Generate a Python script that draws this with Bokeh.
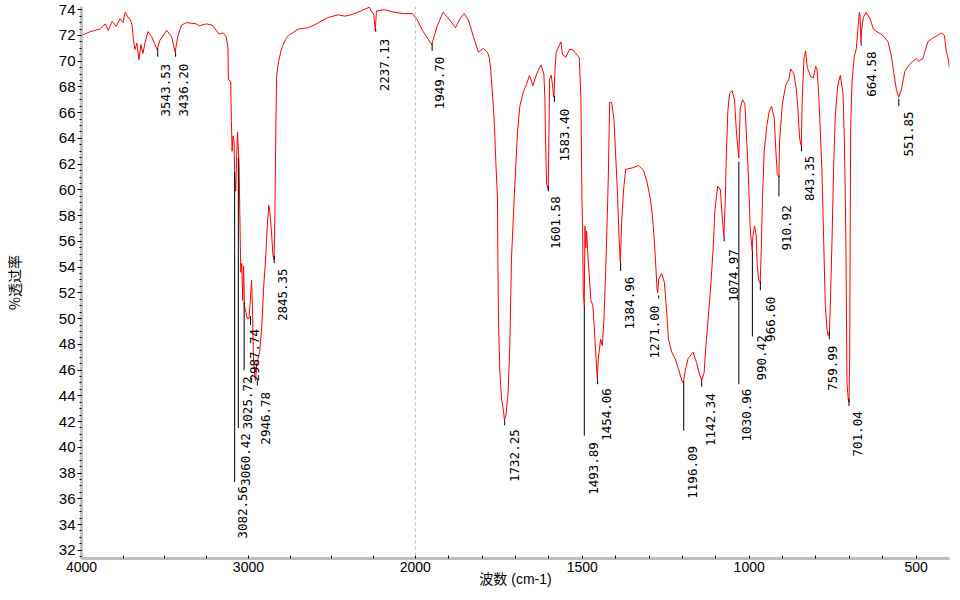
import math
from bokeh.plotting import figure
from bokeh.models import (Range1d, FixedTicker, SingleIntervalTicker, Span,
                          ColumnDataSource, CustomJSTransform)
from bokeh.transform import transform
from bokeh.core.properties import value
from bokeh.embed import file_html
from bokeh.resources import INLINE

# ---------------- data ----------------
# spectrum: wavenumber (cm-1) and % transmittance
spec_w = [4000, 3947, 3887, 3858, 3840, 3816, 3792, 3769, 3751, 3739, 3721, 3709, 3697, 3690,
          3680, 3668, 3656, 3644, 3632, 3620, 3602, 3579, 3561, 3546, 3531, 3490, 3460, 3439,
          3424, 3401, 3371, 3312, 3294, 3252, 3217, 3175, 3151, 3133, 3123, 3120, 3106, 3102,
          3098, 3092, 3086, 3082, 3076, 3071, 3065, 3056, 3050, 3046, 3040, 3034, 3029, 3024,
          3015, 3006, 2997, 2991, 2981, 2976, 2970, 2961, 2957, 2950, 2944, 2932, 2920, 2908,
          2898, 2888, 2878, 2872, 2862, 2853, 2847, 2843, 2839, 2835, 2831, 2819, 2801, 2777,
          2760, 2700, 2641, 2593, 2522, 2463, 2421, 2386, 2326, 2275, 2261, 2250, 2240, 2233,
          2184, 2125, 2065, 2018,
          1994, 1979, 1964, 1951, 1944, 1935, 1917, 1900, 1880, 1866, 1854, 1841, 1826, 1811,
          1796, 1784, 1778, 1774, 1768, 1763, 1759, 1754, 1753, 1751, 1747, 1742, 1736, 1733,
          1728, 1724, 1722, 1717, 1712, 1707, 1704, 1700, 1694, 1687, 1677, 1667, 1658, 1648,
          1638, 1630, 1623, 1615, 1612, 1610, 1607, 1602, 1599, 1598, 1593, 1590, 1585, 1581,
          1578, 1573, 1564, 1559, 1549, 1539, 1529, 1519, 1509, 1504, 1501, 1499, 1497, 1494,
          1492, 1489, 1487, 1482, 1477, 1474, 1468, 1462, 1455, 1452, 1445, 1440, 1435, 1430,
          1425, 1422, 1418, 1412, 1405, 1400, 1395, 1390, 1386, 1382, 1376, 1370, 1351, 1331,
          1316, 1306, 1296, 1290, 1284, 1281, 1276, 1274, 1271, 1262, 1254, 1247, 1242, 1232,
          1222, 1212, 1202, 1197, 1192, 1183, 1168, 1158, 1148, 1142, 1135, 1131, 1123, 1115,
          1108, 1103, 1098, 1094, 1086, 1082, 1076, 1072, 1069, 1064, 1059, 1051, 1044, 1039,
          1035, 1031, 1029, 1027, 1020, 1013, 1008, 1002, 997, 991, 989, 984, 979, 976, 971,
          967, 964, 960, 955, 947, 940, 933, 925, 920, 916, 911, 909, 901, 891, 881, 876, 866,
          859, 854, 849, 844, 841, 836, 831, 826, 816, 808, 801, 797, 792, 787, 782, 777, 772,
          767, 764, 760, 757, 752, 747, 742, 735, 727, 719, 715, 712, 710, 707, 703, 701, 699,
          697, 696, 692, 685, 679, 675, 670, 668, 665, 663, 658, 650, 638, 628, 618, 599, 584,
          574, 567, 559, 552, 544, 534, 524, 510, 500, 492, 480, 465, 450, 435, 425, 415, 410,
          405, 400]
spec_t = [72.0, 72.3, 72.5, 72.9, 72.4, 73.1, 72.7, 73.3, 73.0, 73.8, 73.4, 73.3, 72.8, 71.8,
          70.9, 71.4, 70.1, 71.3, 70.6, 71.4, 72.3, 71.9, 71.3, 70.9, 71.6, 72.4, 71.9, 70.7,
          71.9, 72.8, 73.0, 72.9, 72.75, 72.9, 72.8, 72.1, 72.2, 71.9, 71.1, 68.6, 68.4, 65.4,
          63.0, 64.2, 63.7, 61.0, 59.9, 62.5, 64.5, 62.0, 57.0, 53.6, 54.3, 51.4, 54.1, 51.0,
          50.5, 50.0, 50.0, 51.0, 53.0, 51.0, 47.0, 45.5, 45.2, 46.5, 46.8, 47.5, 49.4, 52.6,
          54.4, 57.0, 58.8, 58.3, 56.8, 54.9, 54.6, 56.5, 61.0, 65.5, 68.9, 70.0, 71.0, 71.7,
          72.0, 72.5, 72.6, 72.9, 73.4, 73.6, 73.5, 73.6, 73.9, 74.2, 73.8, 73.7, 72.4, 73.9,
          74.0, 73.8, 73.7, 73.7,
          73.2, 72.4, 71.8, 71.3, 71.9, 72.7, 73.8, 73.3, 72.6, 73.3, 73.7, 73.2, 71.9, 70.7,
          71.0, 70.7, 70.2, 69.3, 67.1, 65.0, 62.2, 59.3, 55.3, 49.8, 46.0, 43.8, 42.8, 42.1,
          42.6, 43.8, 44.3, 47.9, 54.7, 57.5, 59.3, 61.4, 64.5, 66.5, 67.6, 68.2, 68.9, 68.1,
          68.9, 69.4, 69.7, 69.0, 67.1, 64.0, 60.5, 60.0, 66.0, 68.6, 68.9, 68.3, 67.2, 69.7,
          70.7, 71.0, 71.5, 70.5, 70.3, 70.9, 70.9, 70.6, 70.3, 67.1, 59.3, 57.0, 52.0, 51.0,
          57.2, 55.5, 56.8, 54.4, 52.6, 51.4, 51.0, 48.4, 45.3, 46.9, 48.4, 47.9, 50.0, 53.6,
          58.0, 61.0, 66.8, 66.8, 65.5, 62.7, 60.1, 56.4, 54.4, 57.5, 60.1, 61.6, 61.7, 61.9,
          61.5, 60.6, 59.3, 58.0, 56.0, 54.7, 52.3, 52.0, 53.1, 53.5, 52.8, 50.5, 48.4, 47.4,
          46.9, 46.1, 45.2, 45.0, 45.9, 46.9, 47.4, 46.6, 45.6, 45.2, 45.8, 47.4, 50.0, 52.6,
          55.4, 58.3, 59.5, 60.3, 60.0, 58.3, 56.4, 58.8, 62.2, 66.1, 67.5, 67.7, 67.0, 64.8,
          63.5, 62.5, 64.5, 66.3, 67.0, 66.7, 64.2, 60.9, 57.0, 55.3, 56.4, 57.2, 56.5, 54.1, 52.9,
          52.8, 55.2, 59.5, 63.0, 65.0, 66.1, 66.5, 65.6, 63.0, 61.3, 61.0, 63.8, 66.6, 68.1, 68.6,
          69.4, 69.0, 67.9, 66.3, 64.0, 63.4, 67.1, 70.2, 70.8, 69.5, 68.8, 68.7, 69.6, 69.4,
          67.6, 64.5, 61.4, 56.2, 51.0, 49.2, 48.7, 48.8, 51.0, 56.0, 61.9, 65.8, 68.1, 68.9,
          67.5, 64.0, 59.3, 55.0, 45.0, 43.6, 43.5, 47.0, 59.3, 65.0, 68.4, 70.4, 71.0, 72.3,
          73.8, 73.6, 71.5, 72.5, 73.4, 73.8, 73.3, 72.5, 72.3, 72.0, 71.5, 70.4, 69.1, 67.8,
          67.2, 67.8, 69.2, 69.6, 70.0, 70.2, 70.0, 70.2, 71.5, 71.8, 72.0, 72.2, 72.0, 70.8,
          70.3, 69.5]

# peak picks: wavenumber, marker start/end (%T), label position (cm-1, %T at label top)
peak_w = [3543.53, 3436.20, 3082.56, 3060.42, 3025.72, 2987.74, 2946.78, 2845.35, 2237.13,
          1949.70, 1732.25, 1601.58, 1583.40, 1493.89, 1454.06, 1384.96, 1271.00, 1196.09,
          1142.34, 1074.97, 1030.96, 990.42, 966.60, 910.92, 843.35, 759.99, 701.04, 664.58,
          551.85]
mark_top = [71.0, 70.7, 61.4, 62.5, 51.3, 50.2, 45.2, 54.9, 72.5, 71.4, 42.1, 60.3, 67.3,
            51.0, 45.3, 54.4, 51.8, 45.1, 45.2, 56.4, 62.2, 55.3, 52.9, 61.1, 63.4, 49.0,
            43.8, 71.5, 67.1]
mark_end = [70.35, 70.35, 37.3, 41.5, 46.0, 49.5, 44.8, 54.3, 72.3, 70.8, 41.7, 59.9, 66.85,
            40.9, 44.9, 53.7, 51.55, 41.3, 44.7, 56.0, 44.9, 48.6, 52.2, 59.5, 63.0, 48.4,
            43.2, 71.2, 66.5]
label_w = [3496, 3389, 3033, 3015, 3006, 2961, 2898, 2795, 2186, 1927, 1703, 1581, 1554,
           1467, 1427, 1359, 1284, 1170, 1115, 1047, 1008, 964, 937, 888, 818, 750, 676, 634,
           524]
label_t = [69.8, 69.8, 37.0, 41.1, 45.5, 49.2, 44.3, 53.9, 71.75, 70.35, 41.4, 59.5, 66.3,
           40.4, 44.6, 53.25, 51.0, 40.1, 44.2, 55.4, 44.55, 48.7, 51.7, 58.8, 62.65, 47.9,
           42.8, 70.75, 66.1]

x_tick_values = [4000, 3000, 2000, 1500, 1000, 500]
x_minor_values = [3750, 3500, 3250, 2750, 2500, 2250, 1900, 1800, 1700, 1600, 1400, 1300,
                  1200, 1100, 900, 800, 700, 600]
y_limits = (31.36, 74.25)
x_label = "波数 (cm-1)"
y_label = "%透过率"

# ---------------- broken wavenumber axis (4000-2000 compressed x2) ----------------
SPLIT = 2000


def axis_pos(w):
    return w if w <= SPLIT else SPLIT + (w - SPLIT) / 2


wn = CustomJSTransform(v_func="""
const out = new Array(xs.length);
for (let i = 0; i < xs.length; i++) {
  const w = xs[i];
  out[i] = w > 2000 ? 2000 + (w - 2000) / 2 : w;
}
return out;
""")

p = figure(width=952, height=592,
           x_range=Range1d(axis_pos(4000), 400), y_range=Range1d(*y_limits),
           output_backend="svg", toolbar_location=None,
           min_border_left=73, min_border_right=3, min_border_top=6, min_border_bottom=34,
           background_fill_color="white", border_fill_color="white",
           outline_line_color=None)
p.grid.visible = False

# dashed divider at the scale change
p.add_layout(Span(location=axis_pos(SPLIT), dimension="height", line_color="#b8b8b8",
                  line_dash="3 3", line_width=1))

src = ColumnDataSource(dict(w=spec_w, t=spec_t))
p.line(x=transform("w", wn), y="t", source=src, line_color="#ff0000", line_width=1)

lab = ColumnDataSource(dict(w=peak_w, t0=mark_top, t1=mark_end, lw=label_w, lt=label_t,
                            text=[f"{v:.2f}" for v in peak_w]))
p.segment(x0=transform("w", wn), y0="t0", x1=transform("w", wn), y1="t1", source=lab,
          line_color="black", line_width=1)
p.text(x=transform("lw", wn), y="lt", text="text", source=lab, angle=math.pi / 2,
       text_align="right", text_baseline="middle", text_color="black",
       text_font=value("DejaVu Sans Mono"), text_font_size="12.5px")

# axes
xa = p.xaxis[0]
xa.ticker = FixedTicker(ticks=[int(axis_pos(t)) for t in x_tick_values],
                        minor_ticks=[axis_pos(t) for t in x_minor_values])
xa.major_label_overrides = {int(axis_pos(t)): str(t) for t in x_tick_values}
xa.axis_line_color = "#c0c0c0"
xa.axis_line_width = 3
xa.major_tick_in = 3
xa.major_tick_out = 0
xa.minor_tick_in = 3
xa.minor_tick_out = 0
xa.major_tick_line_color = "black"
xa.minor_tick_line_color = "black"
xa.major_label_standoff = 3
xa.major_label_text_font = "Liberation Sans"
xa.major_label_text_font_size = "14px"
xa.major_label_text_color = "black"
xa.axis_label = x_label
xa.axis_label_text_font = "Liberation Sans, Noto Sans CJK SC"
xa.axis_label_text_font_size = "14px"
xa.axis_label_text_font_style = "normal"
xa.axis_label_text_color = "black"
xa.axis_label_standoff = -4

ya = p.yaxis[0]
ya.ticker = SingleIntervalTicker(interval=2, num_minor_ticks=4)
ya.axis_line_color = "#c0c0c0"
ya.axis_line_width = 3
ya.major_tick_in = 0
ya.major_tick_out = 4
ya.minor_tick_in = 0
ya.minor_tick_out = 2
ya.major_tick_line_color = "black"
ya.minor_tick_line_color = "black"
ya.major_label_standoff = 2
ya.major_label_text_font = "Liberation Sans"
ya.major_label_text_font_size = "15px"
ya.major_label_text_color = "black"
ya.axis_label = y_label
ya.axis_label_text_font = "Noto Sans CJK SC"
ya.axis_label_text_font_size = "14px"
ya.axis_label_text_font_style = "normal"
ya.axis_label_text_color = "black"
ya.axis_label_standoff = 32

open("out.html", "w").write(file_html(p, INLINE))
